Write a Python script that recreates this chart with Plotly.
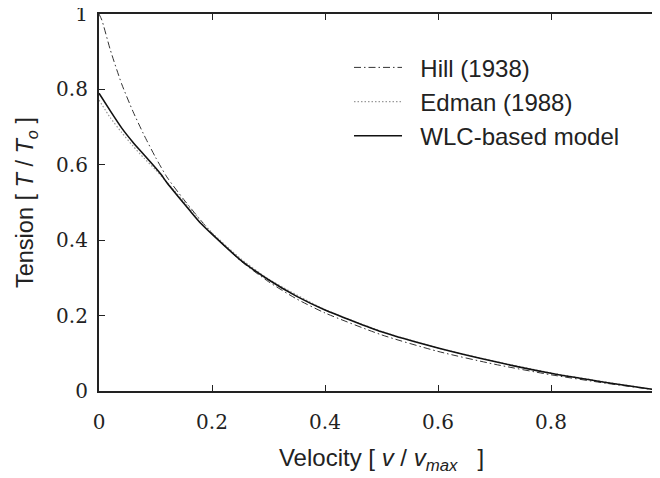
import plotly.graph_objects as go

# ---- data ----
hill_x = [0.0, 0.005, 0.02, 0.04, 0.06, 0.08, 0.10, 0.12, 0.15, 0.20, 0.25, 0.30, 0.35, 0.40, 0.50, 0.60, 0.70, 0.80, 0.90, 1.0]
hill_y = [1.0, 0.984, 0.905, 0.815, 0.742, 0.678, 0.620, 0.568, 0.508, 0.418, 0.346, 0.290, 0.244, 0.207, 0.149, 0.105, 0.071, 0.043, 0.020, 0.0]

edman_x = [0.0, 0.02, 0.04, 0.06, 0.08, 0.10, 0.12, 0.15, 0.20, 0.25, 0.30, 0.40, 0.50, 0.60, 0.70, 0.80, 0.90, 1.0]
edman_y = [0.772, 0.725, 0.686, 0.650, 0.617, 0.587, 0.554, 0.503, 0.420, 0.352, 0.297, 0.216, 0.158, 0.114, 0.079, 0.048, 0.023, 0.0]

wlc_x = [0.0, 0.02, 0.04, 0.06, 0.08, 0.10, 0.11, 0.12, 0.14, 0.16, 0.18, 0.20, 0.25, 0.30, 0.35, 0.40, 0.50, 0.60, 0.70, 0.80, 0.90, 1.0]
wlc_y = [0.790, 0.743, 0.698, 0.660, 0.626, 0.592, 0.574, 0.553, 0.516, 0.480, 0.445, 0.416, 0.348, 0.295, 0.251, 0.215, 0.157, 0.114, 0.078, 0.047, 0.022, 0.0]

x_ticks = [0, 0.2, 0.4, 0.6, 0.8, 1.0]
y_ticks = [0, 0.2, 0.4, 0.6, 0.8, 1.0]

series_names = ["Hill (1938)", "Edman (1988)", "WLC-based model"]
pad = "\u00a0\u00a0"

fig = go.Figure()
fig.add_trace(go.Scatter(x=hill_x, y=hill_y, mode="lines", name=pad + series_names[0],
                         line=dict(color="#333333", width=1, dash="7px,3px,1.5px,3px",
                                   shape="spline", smoothing=0.6)))
fig.add_trace(go.Scatter(x=edman_x, y=edman_y, mode="lines", name=pad + series_names[1],
                         line=dict(color="#999999", width=1.2, dash="1.5px,2px",
                                   shape="spline", smoothing=0.6)))
fig.add_trace(go.Scatter(x=wlc_x, y=wlc_y, mode="lines", name=pad + series_names[2],
                         line=dict(color="#111111", width=1.6, shape="spline", smoothing=0.5)))

serif = "DejaVu Serif"
sans = "Liberation Sans"

# The page body has an 8px margin; the figure is offset accordingly.
fig.update_layout(
    width=660, height=478,
    margin=dict(l=91, r=4, t=6, b=95),
    paper_bgcolor="white", plot_bgcolor="white",
    font=dict(family=sans, size=23, color="#222222"),
    showlegend=True,
    legend=dict(x=0.4425, y=0.917, xanchor="left", yanchor="top",
                font=dict(family=sans, size=24, color="#222222"),
                bgcolor="rgba(0,0,0,0)", borderwidth=0, itemwidth=48,
                tracegroupgap=0),
    xaxis=dict(range=[0, 1], tickvals=x_ticks, ticks="inside", ticklen=6,
               tickwidth=1, tickcolor="#222222",
               showline=True, linecolor="#222222", linewidth=1.6, mirror="ticks",
               showgrid=False, zeroline=False, automargin=False,
               tickfont=dict(family=serif, size=20, color="#222222"),
               ticklabelstandoff=12, ticklabeloverflow="allow",
               title=dict(text="Velocity [ <i>v</i> / <i>v<sub>max</sub></i>   ]",
                          font=dict(family=sans, size=24, color="#222222"), standoff=16)),
    yaxis=dict(range=[0, 1], tickvals=y_ticks, ticks="inside", ticklen=6,
               tickwidth=1, tickcolor="#222222",
               showline=True, linecolor="#222222", linewidth=2.2, mirror="ticks",
               showgrid=False, zeroline=False, automargin=False,
               tickfont=dict(family=serif, size=20, color="#222222"),
               ticklabelstandoff=5, ticklabeloverflow="allow",
               title=dict(text="Tension [ <i>T</i> / <i>T<sub>o</sub></i> ]",
                          font=dict(family=sans, size=23.5, color="#222222"), standoff=16)),
)

fig.write_html("out.html")
